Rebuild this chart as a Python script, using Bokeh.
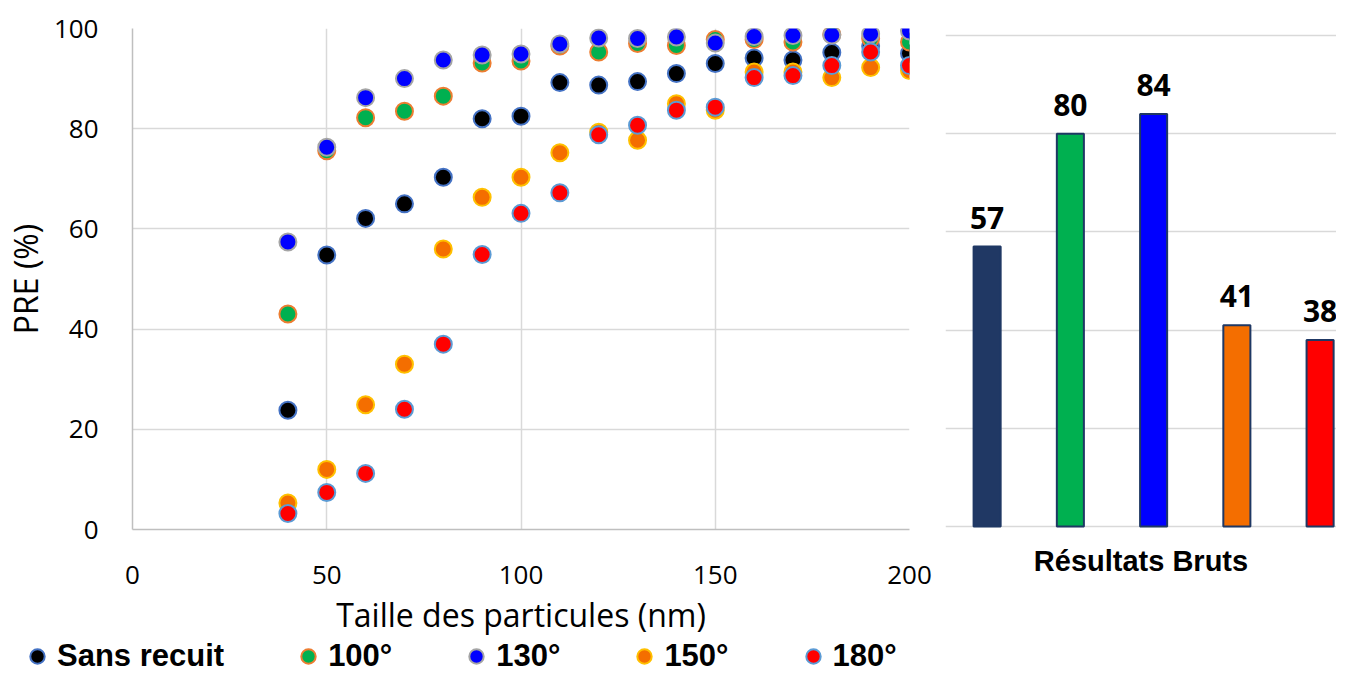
from bokeh.plotting import figure
from bokeh.models import Range1d, Legend, LegendItem, FixedTicker
from bokeh.layouts import row, column
from bokeh.embed import file_html
from bokeh.resources import INLINE
from bokeh.core.properties import value

# ---------------- data ----------------
sizes = [40, 50, 60, 70, 80, 90, 100, 110, 120, 130, 140, 150, 160, 170, 180, 190, 200]

sans_recuit = [23.8, 54.8, 62.1, 65.0, 70.3, 82.0, 82.5, 89.2, 88.7, 89.4, 91.0, 93.0, 94.1, 93.7, 95.2, 96.5, 95.0]
c100 = [43.0, 75.6, 82.2, 83.5, 86.5, 93.1, 93.5, 96.5, 95.3, 97.0, 96.6, 97.8, 97.8, 97.3, 98.8, 98.0, 97.3]
c130 = [57.4, 76.3, 86.2, 90.0, 93.7, 94.7, 94.9, 96.9, 98.1, 98.0, 98.3, 97.1, 98.4, 98.6, 98.7, 98.9, 99.5]
c150 = [5.3, 12.0, 24.9, 33.0, 56.0, 66.3, 70.3, 75.2, 79.3, 77.7, 85.0, 83.7, 91.3, 91.3, 90.2, 92.2, 91.6]
c180 = [3.2, 7.4, 11.2, 24.0, 37.0, 54.9, 63.1, 67.2, 78.8, 80.7, 83.7, 84.3, 90.2, 90.6, 92.6, 95.3, 92.6]

series_names = ["Sans recuit", "100°", "130°", "150°", "180°"]
series_values = [sans_recuit, c100, c130, c150, c180]
fill_colors = ["#000000", "#00B050", "#0000FF", "#F46E00", "#FF0000"]
edge_colors = ["#4472C4", "#ED7D31", "#A5A5A5", "#FFC000", "#5B9BD5"]

bar_categories = ["Sans recuit", "100°", "130°", "150°", "180°"]
bar_values = [57, 80, 84, 41, 38]
bar_colors = ["#203864", "#00B050", "#0000FF", "#F46E00", "#FF0000"]

x_ticks = [0, 50, 100, 150, 200]
y_ticks = [0, 20, 40, 60, 80, 100]

FONT = "Open Sans"
GRID = "#D9D9D9"
TOP_H = 638
LEG_H = 674 - TOP_H
FRAME_TOP = 28
FRAME_BOTTOM = 530

# ---------------- scatter chart ----------------
p1 = figure(width=940, height=TOP_H, x_range=Range1d(0, 200), y_range=Range1d(0, 100),
            output_backend="svg", toolbar_location=None,
            min_border_left=131, min_border_right=31, min_border_top=FRAME_TOP,
            min_border_bottom=TOP_H - FRAME_BOTTOM)
p1.outline_line_color = None

for ax in (p1.xaxis[0], p1.yaxis[0]):
    ax.major_tick_line_color = None
    ax.minor_tick_line_color = None
    ax.major_tick_out = 0
    ax.major_tick_in = 0
    ax.axis_line_color = "#BFBFBF"
    ax.axis_line_width = 1.5
    ax.major_label_text_font = FONT
    ax.major_label_text_font_size = "26px"
    ax.major_label_text_color = "#000000"
    ax.axis_label_text_font = FONT
    ax.axis_label_text_font_size = "32px"
    ax.axis_label_text_font_style = "normal"
    ax.axis_label_text_color = "#000000"

p1.xaxis.ticker = FixedTicker(ticks=x_ticks)
p1.yaxis.ticker = FixedTicker(ticks=y_ticks)
p1.xaxis.axis_label = "Taille des particules (nm)"
p1.yaxis.axis_label = "PRE (%)"
p1.xaxis.major_label_standoff = 36
p1.xaxis.axis_label_standoff = 6
p1.yaxis.major_label_standoff = 34
p1.yaxis.axis_label_standoff = 4

p1.xgrid.grid_line_color = GRID
p1.ygrid.grid_line_color = GRID
p1.xgrid.grid_line_width = 1.5
p1.ygrid.grid_line_width = 1.5

for vals, fc, ec in zip(series_values, fill_colors, edge_colors):
    p1.scatter(sizes, vals, size=17, fill_color=fc, line_color=ec, line_width=2)

# ---------------- legend strip (own figure) ----------------
p3 = figure(width=940, height=LEG_H, x_range=Range1d(0, 1), y_range=Range1d(0, 1),
            output_backend="svg", toolbar_location=None,
            min_border_left=0, min_border_right=0, min_border_top=0, min_border_bottom=0)
p3.axis.visible = False
p3.grid.visible = False
p3.outline_line_color = None
items = []
for name, vals, fc, ec in zip(series_names, series_values, fill_colors, edge_colors):
    # same series, outside this strip's ranges: only the legend glyph is seen
    r = p3.scatter(sizes, vals, size=17, fill_color=fc, line_color=ec, line_width=2)
    items.append(LegendItem(label=name, renderers=[r]))
legend = Legend(items=items, location=(19, 0), orientation="horizontal",
                glyph_width=LEG_H, glyph_height=LEG_H, label_standoff=2, spacing=66,
                padding=0, margin=0, border_line_color=None, background_fill_alpha=0,
                label_text_font="Liberation Sans", label_text_font_size="31px",
                label_text_font_style="bold", label_text_color="#000000",
                label_height=LEG_H)
p3.add_layout(legend)

# ---------------- bar chart ----------------
# same frame as the scatter chart (row aligns frames); range chosen so 0..100 spans 527..35 px
x_idx = list(range(len(bar_values)))
p2 = figure(width=396, height=TOP_H, x_range=Range1d(-0.5, 4.197), y_range=Range1d(-0.61, 101.42),
            output_backend="svg", toolbar_location=None,
            min_border_left=5, min_border_right=0, min_border_top=FRAME_TOP,
            min_border_bottom=TOP_H - FRAME_BOTTOM)
p2.outline_line_color = None
p2.yaxis.visible = False
p2.yaxis.ticker = FixedTicker(ticks=y_ticks)
p2.xgrid.grid_line_color = None
p2.ygrid.grid_line_color = GRID
p2.ygrid.grid_line_width = 1.5

xa = p2.xaxis[0]
xa.ticker = FixedTicker(ticks=[])
xa.axis_line_color = None
xa.major_tick_line_color = None
xa.minor_tick_line_color = None
xa.axis_label = "Résultats Bruts"
xa.axis_label_text_font = "Liberation Sans"
xa.axis_label_text_font_style = "bold"
xa.axis_label_text_font_size = "29px"
xa.axis_label_text_color = "#000000"
xa.axis_label_standoff = 15

p2.vbar(x=x_idx, top=bar_values, bottom=0, width=0.325, fill_color=bar_colors,
        line_color="#1F3864", line_width=2)
p2.text(x=x_idx, y=bar_values, text=[str(v) for v in bar_values],
        text_align="center", text_baseline="bottom", y_offset=-18,
        text_font=value(FONT), text_font_style="bold", text_font_size="30px",
        text_color="#000000")

layout = column(row(p1, p2), p3)
open("out.html", "w").write(file_html(layout, INLINE))
